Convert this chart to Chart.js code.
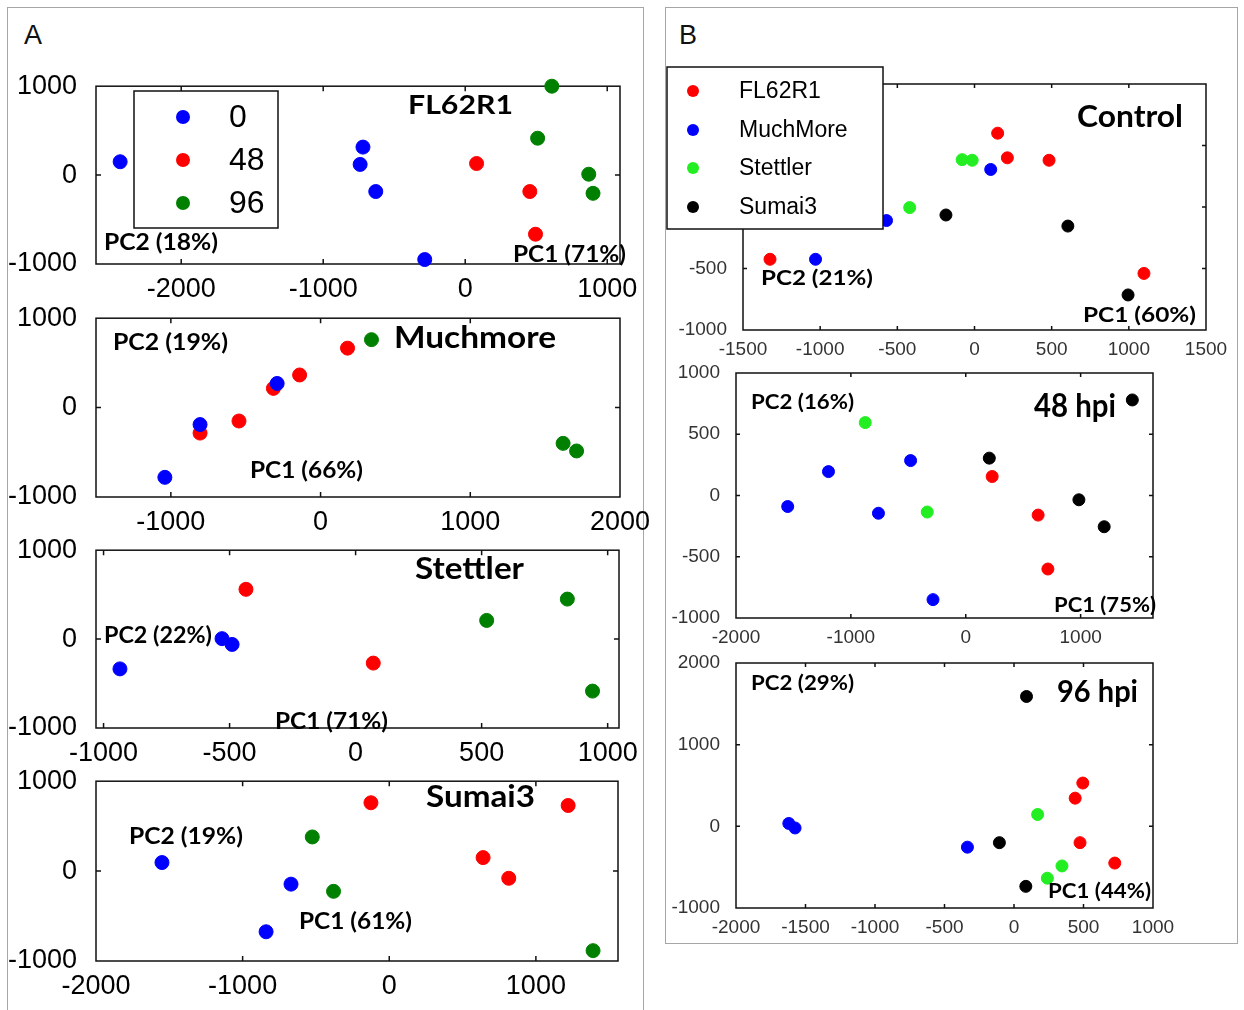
<!DOCTYPE html>
<html lang="en">
<head>
<meta charset="UTF-8">
<title>PCA score plots</title>
<script src="https://cdn.jsdelivr.net/npm/chart.js"></script>
<style>
    body { margin: 0; background: #fff; font-family: 'Liberation Sans', Arial, sans-serif; }
    #page { position: relative; width: 1244px; height: 1010px; overflow: hidden; background: #fff; }
    .panel { position: absolute; border: 1.5px solid #a6a6a6; box-sizing: border-box; }
    .letter { position: absolute; font-size: 27px; color: #111; }
    canvas { position: absolute; }
</style>
</head>
<body>
<div id="page">
    <div class="panel" style="left:7px; top:7px; width:637px; height:1030px;"></div>
    <div class="panel" style="left:665px; top:7px; width:573px; height:937px;"></div>
    <div class="letter" style="left:24px; top:20px;">A</div>
    <div class="letter" style="left:679px; top:20px;">B</div>
</div>
<script>
// legend groups
const timeLabels = ['0', '48', '96'];
const timeColors = ['#0000ff', '#ff0000', '#008000'];
const lineLabels = ['FL62R1', 'MuchMore', 'Stettler', 'Sumai3'];
const lineColors = ['#ff0000', '#0000ff', '#22ee22', '#000000'];

// panel A: one plot per genotype, points [PC1, PC2] per time point (hpi)
const fl62r1_0 = [[-2430, 150], [-720, 315], [-740, 120], [-630, -185], [-285, -950]];
const fl62r1_48 = [[80, 130], [455, -185], [495, -665]];
const fl62r1_96 = [[610, 1000], [510, 415], [870, 10], [900, -205]];

const muchmore_0 = [[-1040, -780], [-805, -190], [-290, 270]];
const muchmore_48 = [[-805, -285], [-545, -150], [-315, 215], [-140, 365], [180, 665]];
const muchmore_96 = [[340, 760], [1620, -400], [1710, -485]];

const stettler_0 = [[-935, -335], [-530, 5], [-490, -60]];
const stettler_48 = [[-435, 560], [70, -270]];
const stettler_96 = [[520, 210], [840, 450], [940, -585]];

const sumai3_0 = [[-1550, 95], [-670, -145], [-840, -675]];
const sumai3_48 = [[-125, 760], [1220, 730], [640, 150], [815, -80]];
const sumai3_96 = [[-525, 380], [-380, -225], [1390, -885]];

// panel B: one plot per time point, points per genotype
const ctl_fl62r1 = [[-1325, -425], [150, 600], [213, 400], [483, 380], [1098, -540]];
const ctl_muchmore = [[-1030, -425], [-570, -110], [105, 305]];
const ctl_stettler = [[-420, -5], [-80, 385], [-15, 380]];
const ctl_sumai3 = [[-185, -65], [605, -155], [995, -715]];

const h48_fl62r1 = [[230, 155], [630, -160], [715, -600]];
const h48_muchmore = [[-1550, -90], [-1195, 195], [-480, 285], [-760, -145], [-285, -850]];
const h48_stettler = [[-875, 595], [-335, -135]];
const h48_sumai3 = [[205, 305], [985, -35], [1205, -255], [1450, 780]];

const h96_fl62r1 = [[495, 530], [440, 345], [475, -200], [725, -450]];
const h96_muchmore = [[-1620, 35], [-1575, -20], [-335, -255]];
const h96_stettler = [[170, 145], [345, -485], [240, -635]];
const h96_sumai3 = [[90, 1590], [-105, -200], [85, -735]];

// tick values
const yTicksA = [-1000, 0, 1000];
const xTicksFL = [-2000, -1000, 0, 1000];
const xTicksMM = [-1000, 0, 1000, 2000];
const xTicksST = [-1000, -500, 0, 500, 1000];
const xTicksSU = [-2000, -1000, 0, 1000];
const xTicksCtl = [-1500, -1000, -500, 0, 500, 1000, 1500];
const yTicksCtl = [-1000, -500, 0, 500, 1000];
const xTicks48 = [-2000, -1000, 0, 1000];
const yTicks48 = [-1000, -500, 0, 500, 1000];
const xTicks96 = [-2000, -1500, -1000, -500, 0, 500, 1000];
const yTicks96 = [-1000, 0, 1000, 2000];

const styleA = { yw: 96, padT: 25, padR: 45, xh: 45, font: 27, color: '#000', xpad: 1, ypad: 11, r: 7, tick: 5 };
const styleB = { padT: 25, padR: 40, xh: 35, font: 19, color: '#333', xpad: 0, ypad: 8, r: 6, tick: 4 };

// area = [left, top, right, bottom] of the plot box on the page
const plots = [
    { s: styleA, area: [96, 84, 620, 264], x: [-2600, 1090], y: [-1000, 1000], xt: xTicksFL, yt: yTicksA,
      sets: [fl62r1_0, fl62r1_48, fl62r1_96], colors: timeColors,
      texts: [['FL62R1', 408, 106, 105, 26], ['PC2 (18%)', 104, 243, 114, 22], ['PC1 (71%)', 513, 255, 113, 22]],
      legend: { box: [134, 91, 144, 137], mx: 183, tx: 229, rows: [117, 160, 203], labels: timeLabels, colors: timeColors, size: 32, r: 7 } },
    { s: styleA, area: [96, 316, 620, 497], x: [-1500, 2000], y: [-1000, 1000], xt: xTicksMM, yt: yTicksA,
      sets: [muchmore_0, muchmore_48, muchmore_96], colors: timeColors,
      texts: [['Muchmore', 394, 338, 162, 31], ['PC2 (19%)', 113, 343, 115, 22], ['PC1 (66%)', 250, 471, 113, 22]] },
    { s: styleA, area: [96, 548, 619, 728], x: [-1030, 1045], y: [-1000, 1000], xt: xTicksST, yt: yTicksA,
      sets: [stettler_0, stettler_48, stettler_96], colors: timeColors,
      texts: [['Stettler', 415, 569, 109, 31], ['PC2 (22%)', 104, 636, 108, 22], ['PC1 (71%)', 275, 722, 113, 22]] },
    { s: styleA, area: [96, 779, 618, 961], x: [-2000, 1560], y: [-1000, 1000], xt: xTicksSU, yt: yTicksA,
      sets: [sumai3_0, sumai3_48, sumai3_96], colors: timeColors,
      texts: [['Sumai3', 426, 797, 109, 31], ['PC2 (19%)', 129, 837, 114, 22], ['PC1 (61%)', 299, 922, 113, 22]] },
    { s: Object.assign({ yw: 83 }, styleB), area: [743, 84, 1206, 330], x: [-1500, 1500], y: [-1000, 1000], xt: xTicksCtl, yt: yTicksCtl,
      sets: [ctl_fl62r1, ctl_muchmore, ctl_stettler, ctl_sumai3], colors: lineColors,
      texts: [['Control', 1077, 117, 106, 30], ['PC2 (21%)', 761, 278, 112, 21], ['PC1 (60%)', 1083, 315, 113, 21]],
      legend: { box: [667, 67, 216, 162], mx: 693, tx: 739, rows: [91, 130, 168, 207], labels: lineLabels, colors: lineColors, size: 23, r: 6 } },
    { s: Object.assign({ yw: 76 }, styleB), area: [736, 373, 1153, 618], x: [-2000, 1630], y: [-1000, 1000], xt: xTicks48, yt: yTicks48,
      sets: [h48_fl62r1, h48_muchmore, h48_stettler, h48_sumai3], colors: lineColors,
      texts: [['48 hpi', 1034, 407, 82, 32], ['PC2 (16%)', 751, 402, 103, 21], ['PC1 (75%)', 1054, 605, 102, 21]] },
    { s: Object.assign({ yw: 76 }, styleB), area: [736, 663, 1153, 908], x: [-2000, 1000], y: [-1000, 2000], xt: xTicks96, yt: yTicks96,
      sets: [h96_fl62r1, h96_muchmore, h96_stettler, h96_sumai3], colors: lineColors,
      texts: [['96 hpi', 1057, 692, 81, 30], ['PC2 (29%)', 751, 683, 103, 21], ['PC1 (44%)', 1048, 891, 103, 21]] }
];

function fitText(ctx, txt, x, y, w, size) {
    ctx.font = 'bold ' + size + 'px Lato, "Open Sans", sans-serif';
    const m = ctx.measureText(txt).width;
    ctx.save();
    ctx.translate(x, y);
    ctx.scale(w / m, 1);
    ctx.textBaseline = 'middle';
    ctx.textAlign = 'left';
    ctx.fillStyle = '#000';
    ctx.fillText(txt, 0, 0);
    ctx.restore();
}

// box with inward tick marks, then the labels and the legend on top of the points
const framePlugin = {
    id: 'frame',
    beforeDatasetsDraw(chart, args, o) {
        const { ctx, chartArea: a } = chart;
        const sx = chart.scales.x, sy = chart.scales.y;
        ctx.save();
        ctx.strokeStyle = '#111';
        ctx.lineWidth = 1.5;
        ctx.strokeRect(a.left, a.top, a.right - a.left, a.bottom - a.top);
        ctx.beginPath();
        sx.ticks.forEach(t => {
            const px = sx.getPixelForValue(t.value);
            if (px < a.left + 2 || px > a.right - 2) return;
            ctx.moveTo(px, a.bottom); ctx.lineTo(px, a.bottom - o.tick);
            ctx.moveTo(px, a.top); ctx.lineTo(px, a.top + o.tick);
        });
        sy.ticks.forEach(t => {
            const py = sy.getPixelForValue(t.value);
            if (py < a.top + 2 || py > a.bottom - 2) return;
            ctx.moveTo(a.left, py); ctx.lineTo(a.left + o.tick, py);
            ctx.moveTo(a.right, py); ctx.lineTo(a.right - o.tick, py);
        });
        ctx.stroke();
        ctx.restore();
    },
    afterDatasetsDraw(chart, args, o) {
        const ctx = chart.ctx;
        o.texts.forEach(t => fitText(ctx, t[0], t[1] - o.ox, t[2] - o.oy, t[3], t[4]));
        const lg = o.legend;
        if (!lg) return;
        ctx.save();
        ctx.fillStyle = '#fff';
        ctx.strokeStyle = '#111';
        ctx.lineWidth = 1.5;
        ctx.fillRect(lg.box[0] - o.ox, lg.box[1] - o.oy, lg.box[2], lg.box[3]);
        ctx.strokeRect(lg.box[0] - o.ox, lg.box[1] - o.oy, lg.box[2], lg.box[3]);
        ctx.font = lg.size + 'px "Liberation Sans", Arial, sans-serif';
        ctx.textBaseline = 'middle';
        lg.labels.forEach((lab, i) => {
            const ry = lg.rows[i] - o.oy;
            ctx.fillStyle = lg.colors[i];
            ctx.beginPath();
            ctx.arc(lg.mx - o.ox, ry, lg.r, 0, Math.PI * 2);
            ctx.fill();
            ctx.fillStyle = '#000';
            ctx.fillText(lab, lg.tx - o.ox, ry + 1);
        });
        ctx.restore();
    }
};

const page = document.getElementById('page');

plots.forEach(p => {
    const s = p.s;
    const cx = p.area[0] - s.yw, cy = p.area[1] - s.padT;
    const canvas = document.createElement('canvas');
    canvas.width = p.area[2] - cx + s.padR;
    canvas.height = p.area[3] - cy + s.xh;
    canvas.style.left = cx + 'px';
    canvas.style.top = cy + 'px';
    page.appendChild(canvas);

    const tickFont = { family: '"Liberation Sans", Arial, sans-serif', size: s.font };
    new Chart(canvas, {
        type: 'scatter',
        data: {
            datasets: p.sets.map((pts, i) => ({
                data: pts.map(q => ({ x: q[0], y: q[1] })),
                backgroundColor: p.colors[i],
                borderColor: p.colors[i],
                borderWidth: 1,
                pointRadius: s.r,
                clip: false
            }))
        },
        options: {
            responsive: false,
            animation: false,
            events: [],
            layout: { padding: { left: 0, top: s.padT, right: s.padR, bottom: 0 } },
            plugins: {
                legend: { display: false },
                tooltip: { enabled: false },
                frame: { ox: cx, oy: cy, tick: s.tick, texts: p.texts, legend: p.legend }
            },
            scales: {
                x: {
                    type: 'linear', position: 'bottom', min: p.x[0], max: p.x[1],
                    grid: { display: false }, border: { display: false },
                    ticks: { font: tickFont, color: s.color, padding: s.xpad, maxRotation: 0, minRotation: 0, autoSkip: false, callback: v => String(v) },
                    afterBuildTicks: sc => { sc.ticks = p.xt.map(v => ({ value: v })); },
                    afterFit: sc => { sc.height = s.xh; }
                },
                y: {
                    type: 'linear', position: 'left', min: p.y[0], max: p.y[1],
                    grid: { display: false }, border: { display: false },
                    ticks: { font: tickFont, color: s.color, padding: s.ypad, autoSkip: false, callback: v => String(v) },
                    afterBuildTicks: sc => { sc.ticks = p.yt.map(v => ({ value: v })); },
                    afterFit: sc => { sc.width = s.yw; }
                }
            }
        },
        plugins: [framePlugin]
    });
});
</script>
</body>
</html>
